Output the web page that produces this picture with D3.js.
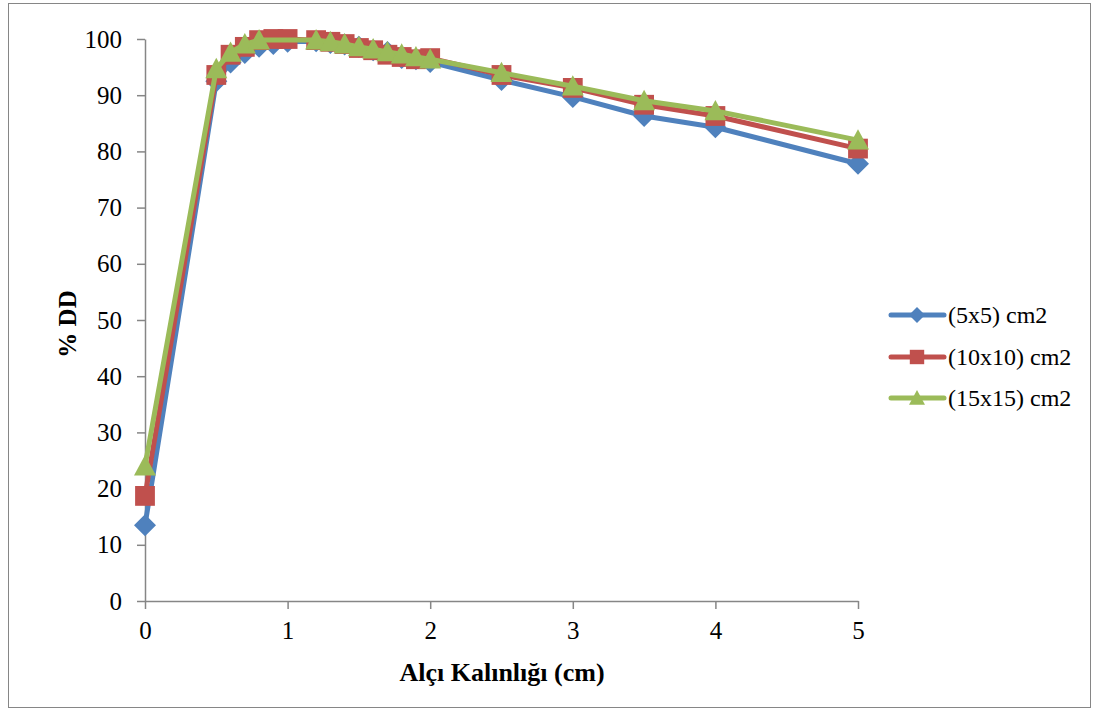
<!DOCTYPE html>
<html>
<head>
<meta charset="utf-8">
<script src="https://cdn.jsdelivr.net/npm/d3@7"></script>
<style>
  html, body { margin: 0; padding: 0; background: #fff; }
  svg { display: block; }
  text { font-family: "Liberation Serif", "Times New Roman", Times, "DejaVu Serif", serif; fill: #000; }
</style>
</head>
<body>
<svg id="chart" width="1099" height="711"></svg>
<script>
// ---- data ----
const xBlue  = [0, 0.5, 0.6, 0.7, 0.8, 0.9, 1.0, 1.2, 1.3, 1.4, 1.5, 1.6, 1.7, 1.8, 1.9, 2.0, 2.5, 3, 3.5, 4, 5];
const yBlue  = [13.5, 92.5, 95.8, 97.5, 98.6, 99.1, 99.5, 99.6, 99.3, 99.0, 98.6, 98.0, 97.7, 96.6, 96.4, 95.9, 92.7, 89.7, 86.3, 84.3, 77.8];
const xRed   = [0, 0.5, 0.6, 0.7, 0.8, 0.9, 1.0, 1.2, 1.3, 1.4, 1.5, 1.6, 1.7, 1.8, 1.9, 2.0, 2.5, 3, 3.5, 4, 5];
const yRed   = [18.7, 93.6, 97.2, 98.6, 99.8, 100, 100, 99.8, 99.5, 99.1, 98.4, 98.0, 97.2, 96.8, 96.4, 96.6, 93.6, 91.3, 88.3, 86.3, 80.5];
const xGreen = [0, 0.5, 0.6, 0.7, 0.8, 1.2, 1.3, 1.4, 1.5, 1.6, 1.7, 1.8, 1.9, 2.0, 2.5, 3, 3.5, 4, 5];
const yGreen = [24.0, 94.7, 97.6, 99.1, 99.8, 99.8, 99.5, 99.1, 98.6, 98.2, 97.7, 97.3, 96.8, 96.4, 94.0, 91.6, 89.0, 87.2, 82.0];
const seriesNames = ["(5x5) cm2", "(10x10) cm2", "(15x15) cm2"];
const xTicks = [0, 1, 2, 3, 4, 5];
const yTicks = [0, 10, 20, 30, 40, 50, 60, 70, 80, 90, 100];
const xTitle = "Alçı Kalınlığı (cm)";
const yTitle = "% DD";

// ---- layout ----
const FONT = '"Liberation Serif", "Times New Roman", Times, "DejaVu Serif", serif';
const svg = d3.select("#chart");
const pLeft = 145, pRight = 858, pTop = 39, pBottom = 601;
const x = d3.scaleLinear().domain([0, 5]).range([pLeft, pRight]);
const y = d3.scaleLinear().domain([0, 100]).range([pBottom, pTop]);
const axisColor = "#868686";

// outer border
svg.append("rect").attr("x", 8.5).attr("y", 3.5).attr("width", 1082).attr("height", 704)
  .attr("fill", "none").attr("stroke", axisColor).attr("stroke-width", 1);

// y axis
const gy = svg.append("g").attr("transform", `translate(${pLeft},0)`)
  .call(d3.axisLeft(y).tickValues(yTicks).tickSize(8).tickPadding(15).tickSizeOuter(0));
gy.attr("font-family", FONT).attr("font-size", 25);
gy.select(".domain").attr("stroke", axisColor).attr("stroke-width", 1.5);
gy.selectAll(".tick line").attr("stroke", axisColor).attr("stroke-width", 1.5);
gy.selectAll(".tick text").style("font-family", FONT).style("font-size", "25px").attr("fill", "#000");

// x axis
const gx = svg.append("g").attr("transform", `translate(0,${pBottom})`)
  .call(d3.axisBottom(x).tickValues(xTicks).tickSize(8).tickPadding(12).tickSizeOuter(0).tickFormat(d3.format("d")));
gx.attr("font-family", FONT).attr("font-size", 25);
gx.select(".domain").attr("stroke", axisColor).attr("stroke-width", 1.5);
gx.selectAll(".tick line").attr("stroke", axisColor).attr("stroke-width", 1.5);
gx.selectAll(".tick text").style("font-family", FONT).style("font-size", "25px").attr("fill", "#000");

// titles
svg.append("text").attr("x", 502).attr("y", 681).attr("text-anchor", "middle")
  .style("font-family", FONT).style("font-size", "26px").style("font-weight", "bold").text(xTitle);
svg.append("text").attr("transform", `translate(76,${(pTop + pBottom) / 2 + 4}) rotate(-90)`)
  .attr("text-anchor", "middle").style("font-family", FONT).style("font-size", "25px").style("font-weight", "bold").text(yTitle);

// series
const colors = ["#4F81BD", "#C0504D", "#9BBB59"];
const series = [
  { xs: xBlue, ys: yBlue, shape: "diamond" },
  { xs: xRed, ys: yRed, shape: "square" },
  { xs: xGreen, ys: yGreen, shape: "triangle" }
];
function markerPath(shape, s) {
  if (shape === "diamond") return `M0,${-s}L${s},0L0,${s}L${-s},0Z`;
  if (shape === "square") { const h = s * 0.9; return `M${-h},${-h}H${h}V${h}H${-h}Z`; }
  return `M0,${-s}L${s},${s * 0.85}L${-s},${s * 0.85}Z`;
}
const line = d3.line().x(d => x(d[0])).y(d => y(d[1]));
series.forEach((s, i) => {
  const pts = s.xs.map((v, j) => [v, s.ys[j]]);
  const g = svg.append("g");
  g.append("path").attr("d", line(pts)).attr("fill", "none").attr("stroke", colors[i])
    .attr("stroke-width", 5).attr("stroke-linejoin", "round").attr("stroke-linecap", "round");
  g.selectAll("path.m").data(pts).enter().append("path").attr("class", "m")
    .attr("transform", d => `translate(${x(d[0])},${y(d[1])})`)
    .attr("d", markerPath(s.shape, 11)).attr("fill", colors[i]);
});

// legend
const legY = [315, 357, 398];
series.forEach((s, i) => {
  const g = svg.append("g").attr("transform", `translate(0,${legY[i]})`);
  g.append("line").attr("x1", 891).attr("x2", 944).attr("y1", 0).attr("y2", 0)
    .attr("stroke", colors[i]).attr("stroke-width", 5).attr("stroke-linecap", "round");
  g.append("path").attr("transform", "translate(917,0)").attr("d", markerPath(s.shape, 8)).attr("fill", colors[i]);
  g.append("text").attr("x", 948).attr("y", 8).style("font-family", FONT).style("font-size", "24px").text(seriesNames[i]);
});
</script>
</body>
</html>
